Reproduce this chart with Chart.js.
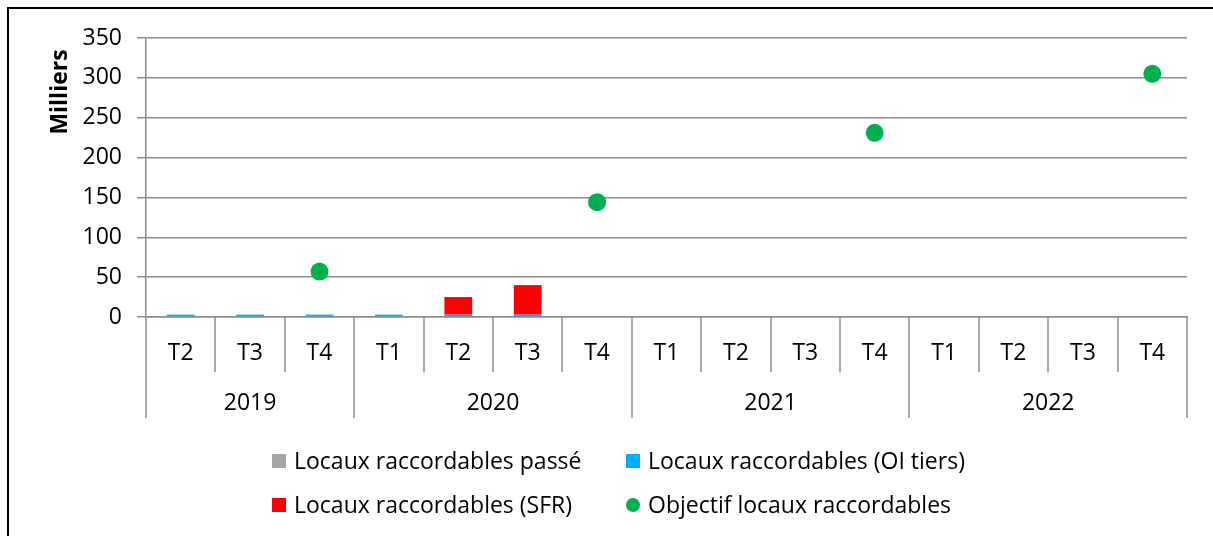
<!DOCTYPE html>
<html>
<head>
<meta charset="utf-8">
<script src="https://cdn.jsdelivr.net/npm/chart.js@4.4.0/dist/chart.umd.min.js"></script>
<style>
    body { margin: 0; background: #fff; }
    #wrap { width: 1213px; height: 536px; position: relative; }
</style>
</head>
<body>
<div id="wrap"><canvas id="chart"></canvas></div>
<script>
// trimestres (axe x) et années regroupées
var quarters = ['T2', 'T3', 'T4', 'T1', 'T2', 'T3', 'T4', 'T1', 'T2', 'T3', 'T4', 'T1', 'T2', 'T3', 'T4'];
var years = ['2019', '2020', '2021', '2022'];
var yearSpans = [3, 4, 4, 4];
var yTitle = 'Milliers';

// valeurs en milliers
var passe = [0, 0, 0, 0, 0, 0, 0, 0, 0, 0, 0, 0, 0, 0, 0];
var oiTiers = [3, 3, 3, 3, 3, 3, null, null, null, null, null, null, null, null, null];
var sfr = [null, null, null, null, 22, 37, null, null, null, null, null, null, null, null, null];
var objectif = [null, null, 57, null, null, null, 144, null, null, null, 231, null, null, null, 305];

var FONT = '"Open Sans", "Noto Sans", sans-serif';
var GRID = '#8c8c8c';

// axe x à deux niveaux + légende + titre + cadre
var excelBits = {
    id: 'excelBits',
    beforeDraw: function (chart) {
        var c = chart.ctx;
        c.save();
        c.fillStyle = '#fff';
        c.fillRect(0, 0, chart.width, chart.height);
        c.strokeStyle = '#000';
        c.lineWidth = 2;
        c.beginPath();
        c.moveTo(8, chart.height);
        c.lineTo(8, 8);
        c.lineTo(chart.width, 8);
        c.stroke();
        c.restore();
    },
    afterDraw: function (chart) {
        var c = chart.ctx;
        var x = chart.scales.x;
        var base = chart.chartArea.bottom;
        var half = (x.getPixelForValue(1) - x.getPixelForValue(0)) / 2;
        c.save();
        c.strokeStyle = GRID;
        c.lineWidth = 1.5;
        // séparateurs de trimestres et d'années
        var yearEnds = [0];
        var acc = 0;
        _each(yearSpans, function (n) { acc += n; yearEnds.push(acc); });
        for (var i = 0; i <= quarters.length; i++) {
            var px = Math.round(x.getPixelForValue(i) - half);
            var low = yearEnds.indexOf(i) >= 0 ? base + 101 : base + 55;
            c.beginPath();
            c.moveTo(px, base);
            c.lineTo(px, low);
            c.stroke();
        }
        c.fillStyle = '#000';
        c.font = '23px ' + FONT;
        c.textAlign = 'center';
        c.textBaseline = 'middle';
        for (var j = 0; j < quarters.length; j++) {
            c.fillText(quarters[j], x.getPixelForValue(j), base + 36);
        }
        for (var k = 0; k < years.length; k++) {
            var a = x.getPixelForValue(yearEnds[k]) - half;
            var b = x.getPixelForValue(yearEnds[k + 1]) - half;
            c.fillText(years[k], (a + b) / 2, base + 86);
        }
        // titre de l'axe y, en haut comme dans Excel
        c.save();
        c.translate(60, 92);
        c.rotate(-Math.PI / 2);
        c.font = 'bold 23px ' + FONT;
        c.fillText(yTitle, 0, 0);
        c.restore();
        // légende sur deux lignes
        var ds = chart.data.datasets;
        var spots = [[272, 461], [626, 461], [272, 505], [626, 505]];
        c.textAlign = 'left';
        c.font = '23px ' + FONT;
        _each(ds, function (d, n) {
            var sx = spots[n][0], sy = spots[n][1];
            c.fillStyle = d.backgroundColor;
            if (d.type === 'line') {
                c.beginPath();
                c.arc(sx + 7, sy, 7, 0, Math.PI * 2);
                c.fill();
            } else {
                c.fillRect(sx, sy - 7, 14, 14);
            }
            c.fillStyle = '#000';
            c.fillText(d.label, sx + 22, sy + 1);
        });
        c.restore();
    }
};

function _each(arr, fn) {
    for (var i = 0; i < arr.length; i++) fn(arr[i], i);
}

var initChart = function () {
    var ctx = document.getElementById('chart');
    Chart.defaults.font.family = FONT;
    Chart.defaults.color = '#000';

    new Chart(ctx, {
        type: 'bar',
        data: {
            labels: quarters,
            datasets: [
                {
                    label: 'Locaux raccordables passé',
                    data: passe,
                    backgroundColor: '#a5a5a5',
                    stack: 's',
                    barPercentage: 0.4,
                    categoryPercentage: 1
                },
                {
                    label: 'Locaux raccordables (OI tiers)',
                    data: oiTiers,
                    backgroundColor: '#00b0f0',
                    stack: 's',
                    barPercentage: 0.4,
                    categoryPercentage: 1
                },
                {
                    label: 'Locaux raccordables (SFR)',
                    data: sfr,
                    backgroundColor: '#ff0000',
                    stack: 's',
                    barPercentage: 0.4,
                    categoryPercentage: 1
                },
                {
                    type: 'line',
                    label: 'Objectif locaux raccordables',
                    data: objectif,
                    backgroundColor: '#00b050',
                    borderColor: '#00b050',
                    showLine: false,
                    pointRadius: 9,
                    pointHoverRadius: 9,
                    pointBorderWidth: 0
                }
            ]
        },
        options: {
            responsive: true,
            maintainAspectRatio: false,
            animation: false,
            layout: { padding: { left: 46, right: 26, top: 38, bottom: 0 } },
            plugins: {
                legend: { display: false },
                tooltip: { enabled: false }
            },
            scales: {
                x: {
                    stacked: true,
                    afterFit: function (scale) { scale.height = 219; },
                    ticks: { display: false },
                    grid: { display: false },
                    border: { color: GRID, width: 1.5 }
                },
                y: {
                    stacked: true,
                    min: 0,
                    max: 350,
                    afterFit: function (scale) { scale.width = 100; },
                    ticks: { stepSize: 50, font: { size: 23 }, padding: 15 },
                    grid: { color: GRID, lineWidth: 1.5, tickLength: 9, tickColor: GRID },
                    border: { color: GRID, width: 1.5 }
                }
            }
        },
        plugins: [excelBits]
    });
};

initChart();
</script>
</body>
</html>
